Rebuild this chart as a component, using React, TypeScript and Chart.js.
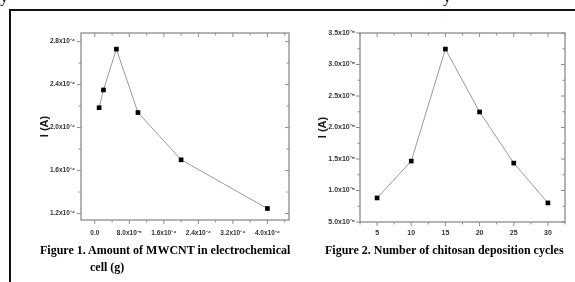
import React, { useEffect, useRef } from "react";
import { Chart, registerables } from "chart.js";

Chart.register(...registerables);

// ---- Figure 1 data ----
const mwcntAmount = [1e-5, 2e-5, 5e-5, 1e-4, 2e-4, 4e-4];
const mwcntCurrent = [2.185e-4, 2.35e-4, 2.73e-4, 2.14e-4, 1.7e-4, 1.247e-4];
const mwcntXTicks = [0, 8e-5, 1.6e-4, 2.4e-4, 3.2e-4, 4e-4];
const mwcntXTickLabels = ["0.0", "8.0x10⁻⁵", "1.6x10⁻⁴", "2.4x10⁻⁴", "3.2x10⁻⁴", "4.0x10⁻⁴"];
const mwcntYTicks = [1.2e-4, 1.6e-4, 2.0e-4, 2.4e-4, 2.8e-4];
const mwcntYTickLabels = ["1.2x10⁻⁴", "1.6x10⁻⁴", "2.0x10⁻⁴", "2.4x10⁻⁴", "2.8x10⁻⁴"];

// ---- Figure 2 data ----
const cycles = [5, 10, 15, 20, 25, 30];
const cyclesCurrent = [0.882e-5, 1.467e-5, 3.245e-5, 2.247e-5, 1.435e-5, 0.803e-5];
const cyclesXTicks = [5, 10, 15, 20, 25, 30];
const cyclesXTickLabels = ["5", "10", "15", "20", "25", "30"];
const cyclesYTicks = [0.5e-5, 1.0e-5, 1.5e-5, 2.0e-5, 2.5e-5, 3.0e-5, 3.5e-5];
const cyclesYTickLabels = ["5.0x10⁻⁶", "1.0x10⁻⁵", "1.5x10⁻⁵", "2.0x10⁻⁵", "2.5x10⁻⁵", "3.0x10⁻⁵", "3.5x10⁻⁵"];

const yAxisTitle = "I (A)";
const caption1a = "Figure 1. Amount of MWCNT in electrochemical";
const caption1b = "cell (g)";
const caption2 = "Figure 2. Number of chitosan deposition cycles";

const framePlugin = {
  id: "frameTicks",
  afterDraw(chart: any) {
    const { ctx, chartArea: a, scales } = chart;
    const x = scales.x;
    const y = scales.y;
    ctx.save();
    ctx.strokeStyle = "#8c8c8c";
    ctx.lineWidth = 1.3;
    ctx.strokeRect(a.left, a.top, a.right - a.left, a.bottom - a.top);
    ctx.lineWidth = 1;
    const line = (x1: number, y1: number, x2: number, y2: number) => {
      ctx.beginPath();
      ctx.moveTo(x1, y1);
      ctx.lineTo(x2, y2);
      ctx.stroke();
    };
    const major = 4;
    const minor = 2.5;
    const doX = (v: number, len: number) => {
      const px = x.getPixelForValue(v);
      line(px, a.bottom, px, a.bottom + len);
      line(px, a.top, px, a.top + len);
    };
    const doY = (v: number, len: number) => {
      const py = y.getPixelForValue(v);
      line(a.left - len, py, a.left, py);
      line(a.right - len, py, a.right, py);
    };
    const xt = x.ticks.map((t: any) => t.value);
    const yt = y.ticks.map((t: any) => t.value);
    xt.forEach((v: number) => doX(v, major));
    yt.forEach((v: number) => doY(v, major));
    if (xt.length > 1) {
      const s = xt[1] - xt[0];
      for (let v = xt[0] - s / 2; v <= x.max; v += s) if (v >= x.min) doX(v, minor);
    }
    if (yt.length > 1) {
      const s = yt[1] - yt[0];
      for (let v = yt[0] - s / 2; v <= y.max; v += s) if (v >= y.min) doY(v, minor);
    }
    ctx.restore();
  },
};

type Cfg = {
  xs: number[];
  ys: number[];
  xTicks: number[];
  xLabels: string[];
  yTicks: number[];
  yLabels: string[];
  xMin: number;
  xMax: number;
  yMin: number;
  yMax: number;
  yWidth: number;
  xHeight: number;
  padRight: number;
  padTop: number;
  titlePad: number;
  tickFont: number;
  yTickPad: number;
  xTickPad: number;
};

function PlotCanvas({ cfg, width, height }: { cfg: Cfg; width: number; height: number }) {
  const ref = useRef<HTMLCanvasElement | null>(null);
  useEffect(() => {
    if (!ref.current) return;
    const tickFont = { family: "'Liberation Sans', Arial, sans-serif", size: cfg.tickFont, weight: "bold" as const };
    const chart = new Chart(ref.current, {
      type: "line",
      data: {
        datasets: [
          {
            data: cfg.xs.map((v, i) => ({ x: v, y: cfg.ys[i] })),
            borderColor: "#9a9a9a",
            borderWidth: 1,
            pointStyle: "rect",
            pointRadius: 3.3,
            pointBackgroundColor: "#000",
            pointBorderColor: "#000",
            pointBorderWidth: 0,
            tension: 0,
          },
        ],
      },
      options: {
        responsive: false,
        animation: false,
        layout: { padding: { top: cfg.padTop, right: cfg.padRight, left: 0, bottom: 0 } },
        plugins: { legend: { display: false }, tooltip: { enabled: false } },
        scales: {
          x: {
            type: "linear",
            min: cfg.xMin,
            max: cfg.xMax,
            grid: { display: false, drawTicks: false },
            border: { display: false },
            afterBuildTicks: (s: any) => {
              s.ticks = cfg.xTicks.map((v) => ({ value: v }));
            },
            afterFit: (s: any) => {
              s.height = cfg.xHeight;
            },
            ticks: {
              autoSkip: false,
              maxRotation: 0,
              padding: cfg.xTickPad,
              color: "#333",
              font: tickFont,
              callback: (_v: any, i: number) => cfg.xLabels[i],
            },
          },
          y: {
            type: "linear",
            min: cfg.yMin,
            max: cfg.yMax,
            grid: { display: false, drawTicks: false },
            border: { display: false },
            afterBuildTicks: (s: any) => {
              s.ticks = cfg.yTicks.map((v) => ({ value: v }));
            },
            afterFit: (s: any) => {
              s.width = cfg.yWidth;
            },
            title: {
              display: true,
              text: yAxisTitle,
              color: "#1a1a1a",
              font: { family: "'Liberation Sans', Arial, sans-serif", size: 11, weight: "bold" },
              padding: { top: cfg.titlePad, bottom: 0 },
            },
            ticks: {
              autoSkip: false,
              padding: cfg.yTickPad,
              color: "#333",
              font: tickFont,
              callback: (_v: any, i: number) => cfg.yLabels[i],
            },
          },
        },
      },
      plugins: [framePlugin],
    });
    return () => chart.destroy();
  }, [cfg]);
  return <canvas ref={ref} width={width} height={height} style={{ width, height, display: "block" }} />;
}

const cfg1: Cfg = {
  xs: mwcntAmount,
  ys: mwcntCurrent,
  xTicks: mwcntXTicks,
  xLabels: mwcntXTickLabels,
  yTicks: mwcntYTicks,
  yLabels: mwcntYTickLabels,
  xMin: -3.2e-5,
  xMax: 4.5e-4,
  yMin: 1.14e-4,
  yMax: 2.88e-4,
  yWidth: 61,
  xHeight: 25,
  padRight: 6,
  padTop: 13,
  titlePad: 18,
  tickFont: 6.5,
  yTickPad: 6,
  xTickPad: 9,
};

const cfg2: Cfg = {
  xs: cycles,
  ys: cyclesCurrent,
  xTicks: cyclesXTicks,
  xLabels: cyclesXTickLabels,
  yTicks: cyclesYTicks,
  yLabels: cyclesYTickLabels,
  xMin: 2.5,
  xMax: 32.5,
  yMin: 0.5e-5,
  yMax: 3.5e-5,
  yWidth: 60,
  xHeight: 23,
  padRight: 10,
  padTop: 13,
  titlePad: 16,
  tickFont: 7,
  yTickPad: 5,
  xTickPad: 7,
};

export default function App() {
  const cap: React.CSSProperties = {
    position: "absolute",
    fontFamily: "'Liberation Serif', 'Times New Roman', serif",
    fontWeight: "bold",
    fontSize: 12,
    lineHeight: "14px",
    color: "#000",
    whiteSpace: "nowrap",
  };
  return (
    <div
      style={{
        position: "fixed",
        left: 0,
        top: 0,
        width: 575,
        height: 282,
        background: "#fff",
        overflow: "hidden",
      }}
    >
      <div style={{ position: "absolute", left: 0, top: -12, fontFamily: "'Liberation Serif', serif", fontSize: 16 }}>y</div>
      <div style={{ position: "absolute", left: 443, top: -12, fontFamily: "'Liberation Serif', serif", fontSize: 16 }}>y</div>
      <div
        style={{
          position: "absolute",
          left: 9,
          top: 9,
          width: 600,
          height: 300,
          borderTop: "2px solid #111",
          borderLeft: "2px solid #111",
        }}
      />
      <div style={{ position: "absolute", left: 20, top: 20 }}>
        <PlotCanvas cfg={cfg1} width={275} height={225} />
      </div>
      <div style={{ position: "absolute", left: 300, top: 20 }}>
        <PlotCanvas cfg={cfg2} width={275} height={225} />
      </div>
      <div style={{ ...cap, left: 40, top: 243 }}>{caption1a}</div>
      <div style={{ ...cap, left: 90, top: 260 }}>{caption1b}</div>
      <div style={{ ...cap, left: 325, top: 243 }}>{caption2}</div>
    </div>
  );
}
